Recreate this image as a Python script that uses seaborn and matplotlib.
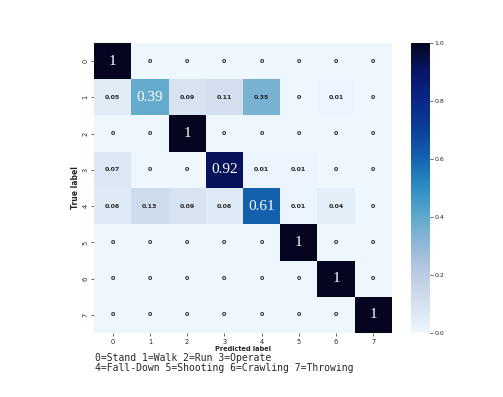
import numpy as np
import pandas as pd
import matplotlib
matplotlib.use("Agg")
import matplotlib.pyplot as plt
from matplotlib.colors import LinearSegmentedColormap
import seaborn as sns

# confusion matrix values (row = true, col = predicted)
labels = ["0", "1", "2", "3", "4", "5", "6", "7"]
row0 = [1, 0, 0, 0, 0, 0, 0, 0]
row1 = [0.05, 0.39, 0.09, 0.11, 0.35, 0, 0.01, 0]
row2 = [0, 0, 1, 0, 0, 0, 0, 0]
row3 = [0.07, 0, 0, 0.92, 0.01, 0.01, 0, 0]
row4 = [0.06, 0.13, 0.09, 0.06, 0.61, 0.01, 0.04, 0]
row5 = [0, 0, 0, 0, 0, 1, 0, 0]
row6 = [0, 0, 0, 0, 0, 0, 1, 0]
row7 = [0, 0, 0, 0, 0, 0, 0, 1]
legend_text = "0=Stand 1=Walk 2=Run 3=Operate\n4=Fall-Down 5=Shooting 6=Crawling 7=Throwing"

cm = pd.DataFrame([row0, row1, row2, row3, row4, row5, row6, row7],
                  index=labels, columns=labels)

# colour ramp picked off the colorbar
cmap = LinearSegmentedColormap.from_list("cm_blues", [
    "#eef6fe", "#d5e1f0", "#bccbe3", "#93b8d8", "#5ea9cd", "#2d8ec3",
    "#1464b0", "#0b3f9a", "#0a2887", "#07166a", "#050520"])

sns.set_style("white")
fig = plt.figure(figsize=(5.03, 3.97), dpi=100)
ax = fig.add_axes([0.187, 0.161, 0.592, 0.731])
cax = fig.add_axes([0.817, 0.161, 0.038, 0.731])

sns.heatmap(cm, ax=ax, cbar_ax=cax, cmap=cmap, vmin=0, vmax=1,
            annot=True, fmt="g",
            annot_kws={"fontsize": 4.5, "fontweight": "bold", "color": "#262626"})

# diagonal values drawn larger in a serif face
n = len(labels)
for k, t in enumerate(ax.texts):
    i, j = divmod(k, n)
    if i == j:
        t.set_fontfamily("Liberation Serif")
        t.set_fontweight("normal")
        t.set_fontsize(11)
        t.set_color("white")

ax.set_xlabel("Predicted label", fontsize=4.8, fontweight="bold", labelpad=1)
ax.set_ylabel("True label", fontsize=5.5, fontweight="bold", labelpad=2)
ax.tick_params(axis="both", labelsize=4.8, length=2, width=0.5, pad=2, bottom=True, left=True)
plt.setp(ax.get_yticklabels(), rotation=90, va="center")
plt.setp(ax.get_xticklabels(), rotation=0)

cax.tick_params(labelsize=4.5, length=2, width=0.5, pad=1)

fig.text(0.189, 0.086, legend_text, family="DejaVu Sans Mono", fontsize=7,
         va="center", ha="left", linespacing=1.0)

fig.savefig("out.png", dpi=100)
